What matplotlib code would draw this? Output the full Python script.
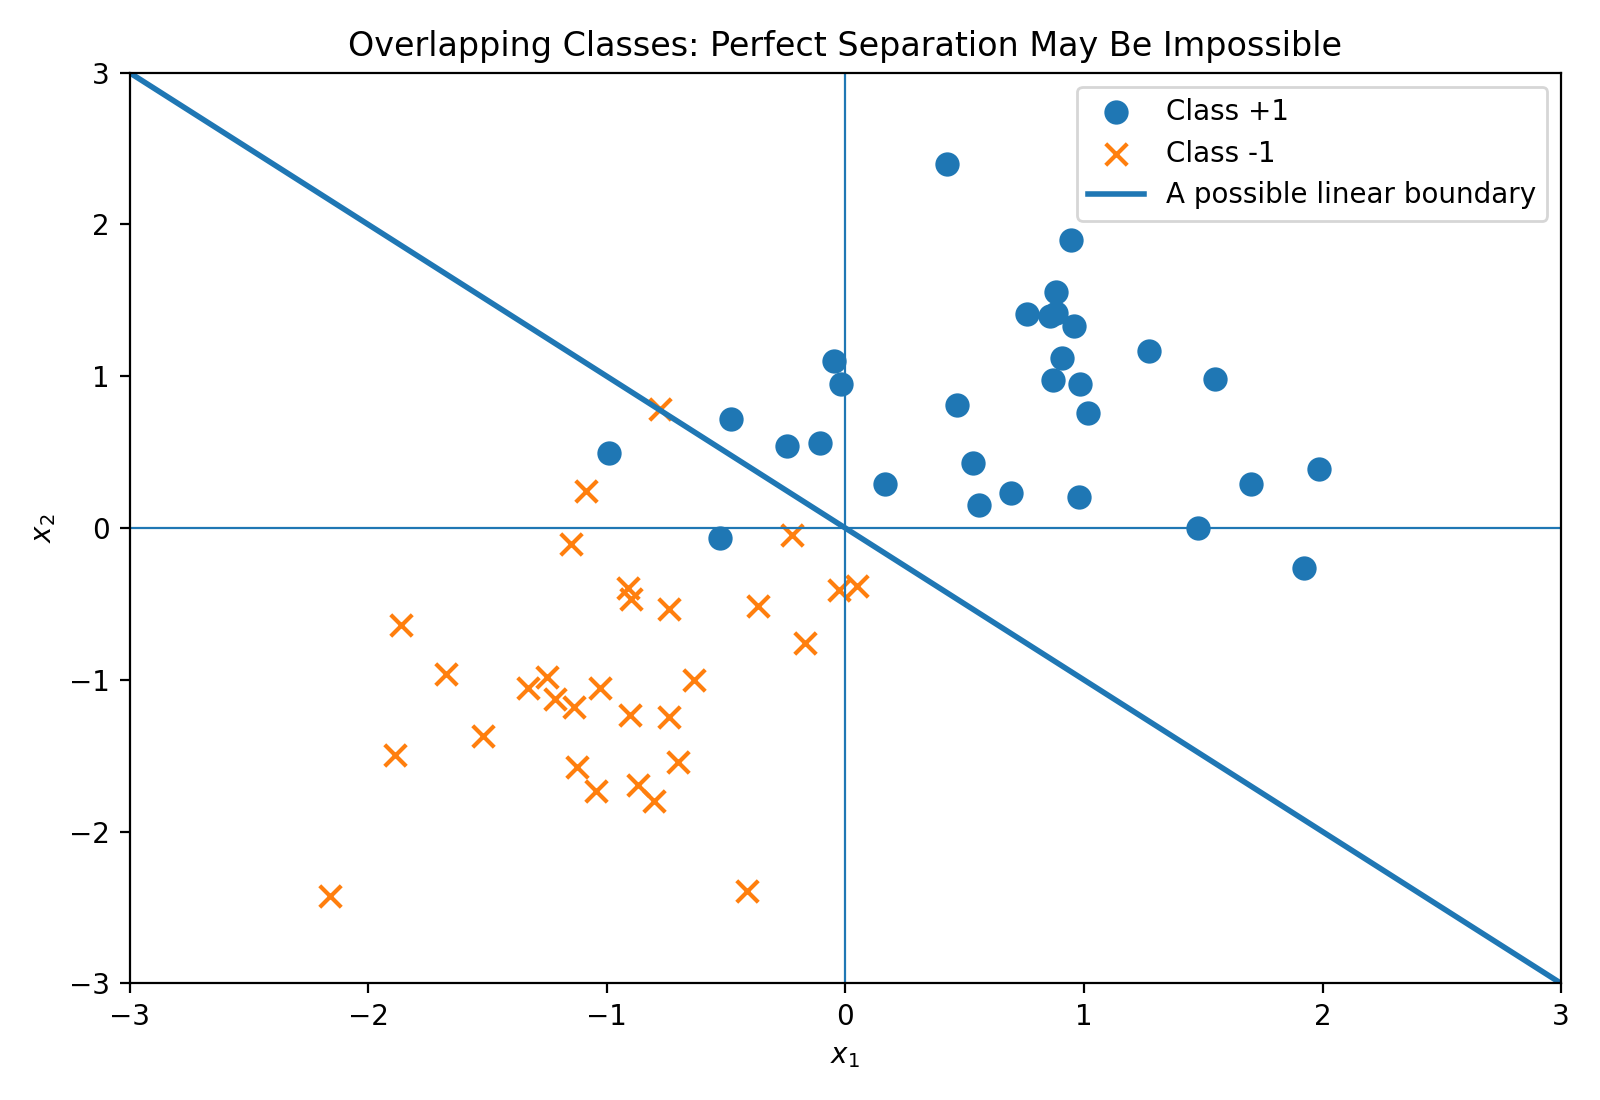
import numpy as np
from matplotlib import pyplot as plt

# class +1 points
pos_x = [0.424, 0.946, 0.882, 0.762, 0.856, 0.882, 0.959, 1.271, 0.907, -0.047,
         -0.017, 0.869, 0.984, 1.549, 0.466, 1.019, -0.479, -0.989, -0.244, -0.107,
         0.535, 0.167, 1.699, 1.986, 0.693, 0.980, 0.561, 1.476, -0.526, 1.922]
pos_y = [2.40, 1.90, 1.557, 1.409, 1.396, 1.416, 1.328, 1.166, 1.119, 1.099,
         0.951, 0.978, 0.951, 0.984, 0.809, 0.755, 0.721, 0.492, 0.539, 0.560,
         0.431, 0.290, 0.290, 0.391, 0.229, 0.202, 0.155, 0.0, -0.067, -0.263]

# class -1 points
neg_x = [-0.775, -1.087, -1.151, -0.223, -0.912, -0.899, -0.740, -0.368, -0.026, 0.047,
         -0.167, -1.862, -1.673, -1.250, -1.331, -1.215, -1.138, -1.027, -0.633, -0.903,
         -0.740, -1.519, -1.887, -1.126, -0.702, -0.869, -1.044, -0.800, -2.161, -0.411]
neg_y = [0.782, 0.243, -0.108, -0.047, -0.398, -0.465, -0.533, -0.512, -0.411, -0.384,
         -0.755, -0.640, -0.964, -0.978, -1.052, -1.126, -1.180, -1.052, -0.998, -1.234,
         -1.247, -1.369, -1.497, -1.571, -1.544, -1.692, -1.733, -1.800, -2.427, -2.393]

# boundary x1 + x2 = 0
bx = np.array([-3, 3])
by = -bx

plt.figure(figsize=(8, 5.5), dpi=200)
plt.scatter(pos_x, pos_y, s=60, marker='o', label='Class +1')
plt.scatter(neg_x, neg_y, s=60, marker='x', label='Class -1')
plt.plot(bx, by, linewidth=2, label='A possible linear boundary')
plt.axhline(0, linewidth=0.8)
plt.axvline(0, linewidth=0.8)
plt.xlim(-3, 3)
plt.ylim(-3, 3)
plt.xlabel('$x_1$')
plt.ylabel('$x_2$')
plt.title('Overlapping Classes: Perfect Separation May Be Impossible')
plt.legend(loc='upper right')
plt.tight_layout()
plt.savefig('out.png')
